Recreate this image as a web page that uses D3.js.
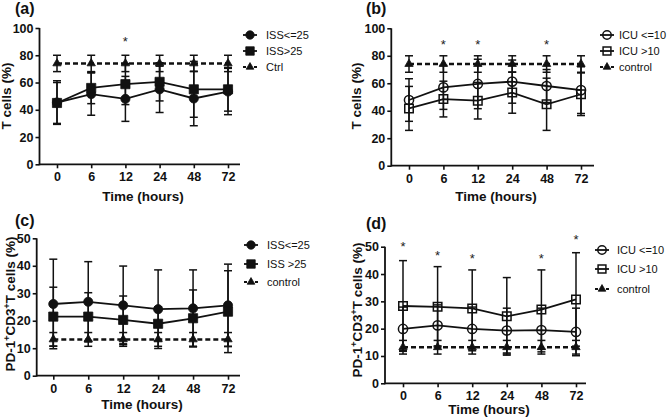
<!DOCTYPE html>
<html><head><meta charset="utf-8">
<script src="https://cdn.jsdelivr.net/npm/d3@7"></script>
<style>
body{margin:0;background:#fff}
svg{display:block}
text{font-family:"Liberation Sans",Arial,Helvetica,sans-serif}
</style>
</head><body>
<svg id="chart" width="668" height="420"></svg>
<script>
// ---------- DATA ----------
const times = ["0", "6", "12", "24", "48", "72"];

// (a) T cells by ISS
const aIssLowMean  = [45.3, 51.5, 48.0, 55.0, 48.3, 53.4];
const aIssLowSd    = [16.0, 15.5, 16.5, 17.0, 20.0, 17.0];
const aIssHighMean = [45.0, 56.0, 58.8, 60.5, 55.0, 55.0];
const aIssHighSd   = [15.0, 11.5, 15.0, 14.0, 20.5, 16.0];
const aCtrlMean    = [74, 74, 74, 74, 74, 74];
const aCtrlSd      = [6, 6, 6, 6, 6, 6];
const aStars       = [null, null, 92, null, null, null];
const aLabels      = ["ISS<=25", "ISS>25", "Ctrl"];

// (b) T cells by ICU stay
const bIcuLowMean  = [47.8, 57.0, 59.5, 61.2, 58.0, 55.0];
const bIcuLowSd    = [15.5, 16.0, 18.0, 15.7, 12.0, 17.0];
const bIcuHighMean = [41.7, 48.5, 47.3, 53.2, 44.7, 52.0];
const bIcuHighSd   = [16.0, 13.0, 13.3, 15.0, 19.0, 15.5];
const bCtrlMean    = [74, 74, 74, 74, 74, 74];
const bCtrlSd      = [6, 6, 6, 6, 6, 6];
const bStars       = [null, 90.3, 90.3, null, 90.3, null];
const bLabels      = ["ICU <=10", "ICU >10", "control"];

// (c) PD-1+CD3+ T cells by ISS
const cIssLowMean  = [26.1, 26.9, 25.6, 24.2, 24.5, 25.6];
const cIssLowSd    = [16.3, 14.6, 14.3, 14.3, 14.0, 15.0];
const cIssHighMean = [21.5, 21.5, 20.3, 18.9, 20.9, 23.3];
const cIssHighSd   = [10.7, 8.7, 8.7, 6.2, 10.3, 14.9];
const cCtrlMean    = [13.2, 13.2, 13.2, 13.2, 13.2, 13.2];
const cCtrlSd      = [2.5, 2.5, 2.5, 2.5, 2.5, 2.5];
const cStars       = [null, null, null, null, null, null];
const cLabels      = ["ISS<=25", "ISS >25", "control"];

// (d) PD-1+CD3+ T cells by ICU stay
const dIcuLowMean  = [19.9, 21.2, 19.9, 19.3, 19.5, 18.8];
const dIcuLowSd    = [8.0, 7.5, 8.0, 8.2, 8.0, 8.7];
const dIcuHighMean = [28.3, 28.0, 27.4, 24.5, 27.0, 30.7];
const dIcuHighSd   = [16.6, 14.7, 14.1, 14.2, 14.5, 17.1];
const dCtrlMean    = [13.2, 13.2, 13.2, 13.2, 13.2, 13.2];
const dCtrlSd      = [2.5, 2.5, 2.5, 2.5, 2.5, 2.5];
const dStars       = [50.9, 47.8, 46.7, null, 46.7, 53.7];
const dLabels      = ["ICU <=10", "ICU >10", "control"];

const tTicks  = [0, 20, 40, 60, 80, 100];
const pdTicks = [0, 10, 20, 30, 40, 50];

// ---------- DRAWING ----------
const svg = d3.select("#chart");

function marker(g, shape, open, cx, cy, scale) {
  const s = scale || 1;
  let type, size;
  if (shape === "circle") { type = d3.symbolCircle; size = 66 * s; }
  else if (shape === "square") { type = d3.symbolSquare; size = (open ? 72 : 84) * s; }
  else { type = d3.symbolTriangle; size = 30 * s; }
  g.append("path")
    .attr("d", d3.symbol().type(type).size(size)())
    .attr("transform", `translate(${cx},${cy})`)
    .attr("fill", open ? "none" : "#111")
    .attr("stroke", "#111")
    .attr("stroke-width", open ? 1.5 : 0.8);
}

function panel(o) {
  const g = svg.append("g");
  const x = d3.scalePoint().domain(times).range([o.x0, o.x1]);
  const y = d3.scaleLinear().domain([0, o.ymax]).range([o.yb, o.yt]);

  // y axis
  const ya = g.append("g").attr("transform", `translate(${o.ax},0)`)
    .call(d3.axisLeft(y).tickValues(o.yticks).tickSize(4).tickPadding(2));
  ya.select(".domain").remove();
  g.append("line").attr("x1", o.ax).attr("x2", o.ax).attr("y1", o.yb + 0.9).attr("y2", o.yt)
    .attr("stroke", "#111").attr("stroke-width", 1.8);

  // x axis
  const xa = g.append("g").attr("transform", `translate(0,${o.yb})`)
    .call(d3.axisBottom(x).tickSize(4).tickPadding(4));
  xa.select(".domain").remove();
  g.append("line").attr("x1", o.ax).attr("x2", o.xend).attr("y1", o.yb).attr("y2", o.yb)
    .attr("stroke", "#111").attr("stroke-width", 1.8);

  [ya, xa].forEach(a => {
    a.selectAll(".tick line").attr("stroke", "#111").attr("stroke-width", 1.6);
    a.selectAll(".tick text").attr("font-size", 12.5).attr("font-weight", "bold")
      .attr("fill", "#111").style("font-family", '"Liberation Sans",Arial,sans-serif');
  });

  // series: error bars
  o.series.forEach(s => {
    const eb = g.append("g").attr("stroke", "#111").attr("stroke-width", 1.5);
    s.mean.forEach((m, i) => {
      const cx = x(times[i]);
      const lo = y(m - s.sd[i]), hi = y(m + s.sd[i]);
      eb.append("line").attr("x1", cx).attr("x2", cx).attr("y1", lo).attr("y2", hi);
      eb.append("line").attr("x1", cx - 4).attr("x2", cx + 4).attr("y1", lo).attr("y2", lo);
      eb.append("line").attr("x1", cx - 4).attr("x2", cx + 4).attr("y1", hi).attr("y2", hi);
    });
  });
  // lines
  o.series.forEach(s => {
    const line = d3.line().x((d, i) => x(times[i])).y(d => y(d));
    g.append("path").attr("d", line(s.mean)).attr("fill", "none")
      .attr("stroke", "#111")
      .attr("stroke-width", s.dashed ? 2.4 : 1.8)
      .attr("stroke-dasharray", s.dashed ? "5,3" : null);
  });
  // markers
  o.series.forEach(s => {
    s.mean.forEach((m, i) => marker(g, s.shape, s.open, x(times[i]), y(m)));
  });

  // significance stars
  o.stars.forEach((v, i) => {
    if (v == null) return;
    g.append("text").attr("x", x(times[i])).attr("y", y(v) + 7)
      .attr("text-anchor", "middle").attr("font-size", 13).attr("fill", "#222").text("*");
  });

  // legend
  o.series.forEach((s, k) => {
    const ly = o.legY[k];
    g.append("line").attr("x1", o.legX - 7).attr("x2", o.legX + 7).attr("y1", ly).attr("y2", ly)
      .attr("stroke", "#111").attr("stroke-width", s.dashed ? 2.2 : 1.8)
      .attr("stroke-dasharray", s.dashed ? "3,2.5" : null);
    marker(g, s.shape, s.open, o.legX, ly, 0.85);
    g.append("text").attr("x", o.legTx).attr("y", ly).attr("dy", "0.35em")
      .attr("font-size", 11).attr("fill", "#111").text(s.label);
  });

  // axis titles
  g.append("text").attr("x", o.xtX).attr("y", o.xtY).attr("text-anchor", "middle")
    .attr("font-size", 13.5).attr("font-weight", "bold").attr("fill", "#111").text("Time (hours)");
  const yt = g.append("text").attr("transform", `translate(${o.ytX},${o.ytY}) rotate(-90)`)
    .attr("text-anchor", "middle").attr("font-size", 13.5).attr("font-weight", "bold").attr("fill", "#111");
  if (o.pd) {
    yt.append("tspan").text("PD-1");
    yt.append("tspan").attr("dy", -5).attr("font-size", 9).text("+");
    yt.append("tspan").attr("dy", 5).text("CD3");
    yt.append("tspan").attr("dy", -5).attr("font-size", 9).text("+");
    yt.append("tspan").attr("dy", 5).text("T cells (%)");
  } else {
    yt.text("T cells (%)");
  }

  // panel label
  svg.append("text").attr("x", o.plX).attr("y", o.plY).attr("font-size", 16)
    .attr("font-weight", "bold").attr("fill", "#111").text(o.pl);
}

panel({
  ax: 39.5, x0: 57, x1: 228, xend: 240, yt: 28, yb: 164.3, ymax: 100, yticks: tTicks,
  series: [
    {mean: aIssLowMean, sd: aIssLowSd, shape: "circle", open: false, label: aLabels[0]},
    {mean: aIssHighMean, sd: aIssHighSd, shape: "square", open: false, label: aLabels[1]},
    {mean: aCtrlMean, sd: aCtrlSd, shape: "triangle", open: false, dashed: true, label: aLabels[2]}
  ],
  stars: aStars, legX: 250, legTx: 266, legY: [35, 51, 67],
  xtX: 143, xtY: 201, ytX: 11, ytY: 96, pl: "(a)", plX: 15, plY: 14
});
panel({
  ax: 391.3, x0: 409, x1: 581, xend: 594, yt: 28.3, yb: 165.7, ymax: 100, yticks: tTicks,
  series: [
    {mean: bIcuLowMean, sd: bIcuLowSd, shape: "circle", open: true, label: bLabels[0]},
    {mean: bIcuHighMean, sd: bIcuHighSd, shape: "square", open: true, label: bLabels[1]},
    {mean: bCtrlMean, sd: bCtrlSd, shape: "triangle", open: false, dashed: true, label: bLabels[2]}
  ],
  stars: bStars, legX: 607, legTx: 619, legY: [35, 51, 67],
  xtX: 496, xtY: 201, ytX: 361, ytY: 96, pl: "(b)", plX: 366, plY: 14
});
panel({
  ax: 36.7, x0: 53.3, x1: 228, xend: 240, yt: 238.3, yb: 375.7, ymax: 50, yticks: pdTicks,
  series: [
    {mean: cIssLowMean, sd: cIssLowSd, shape: "circle", open: false, label: cLabels[0]},
    {mean: cIssHighMean, sd: cIssHighSd, shape: "square", open: false, label: cLabels[1]},
    {mean: cCtrlMean, sd: cCtrlSd, shape: "triangle", open: false, dashed: true, label: cLabels[2]}
  ],
  stars: cStars, legX: 251, legTx: 267, legY: [245, 264, 282], pd: true,
  xtX: 142, xtY: 409, ytX: 15, ytY: 304, pl: "(c)", plX: 15, plY: 226
});
panel({
  ax: 385, x0: 403, x1: 576, xend: 586, yt: 246.7, yb: 383.3, ymax: 50, yticks: pdTicks,
  series: [
    {mean: dIcuLowMean, sd: dIcuLowSd, shape: "circle", open: true, label: dLabels[0]},
    {mean: dIcuHighMean, sd: dIcuHighSd, shape: "square", open: true, label: dLabels[1]},
    {mean: dCtrlMean, sd: dCtrlSd, shape: "triangle", open: false, dashed: true, label: dLabels[2]}
  ],
  stars: dStars, legX: 602, legTx: 617, legY: [250, 269, 289], pd: true,
  xtX: 489, xtY: 414, ytX: 362, ytY: 310, pl: "(d)", plX: 366, plY: 229
});
</script>
</body></html>
